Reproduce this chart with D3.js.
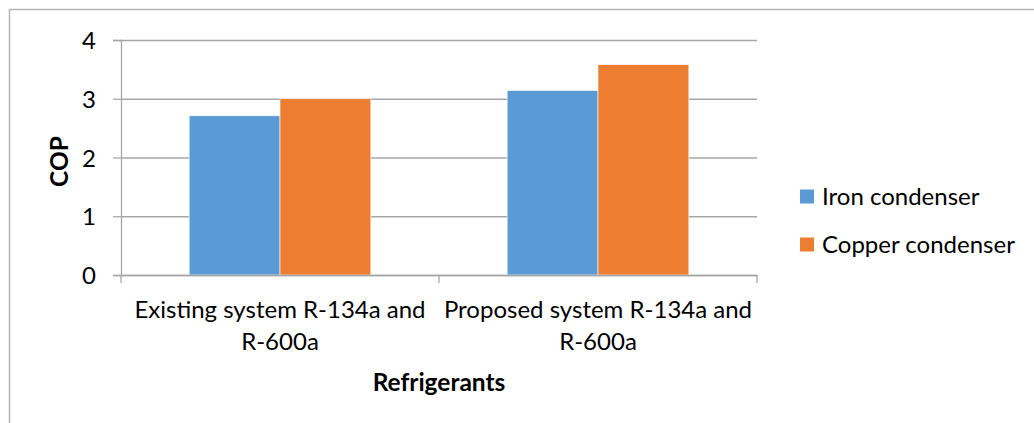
<!DOCTYPE html>
<html>
<head>
<meta charset="utf-8">
<script src="https://cdn.jsdelivr.net/npm/d3@7"></script>
<style>
  body { margin: 0; background: #fff; }
  text { font-family: Lato, "Open Sans", sans-serif; fill: #000; }
</style>
</head>
<body>
<svg id="chart" width="1034" height="423"></svg>
<script>
// Data
const categories = [
	["Existing system R-134a and", "R-600a"],
	["Proposed system R-134a and", "R-600a"]];
const seriesNames = ["Iron condenser", "Copper condenser"];
const ironValues = [2.71, 3.14];
const copperValues = [3.0, 3.58];
const yTicks = [0, 1, 2, 3, 4];

const colours = ["#5b9bd5", "#ed7d31"];
const gridColour = "#a6a6a6";

const svg = d3.select("#chart");

// Plot area
const plot = { left: 121, right: 757, top: 40, bottom: 275 };

// Outer chart border (runs past the right and bottom edges)
svg.append("rect")
	.attr("x", 9.5).attr("y", 9.5)
	.attr("width", 1100).attr("height", 600)
	.attr("fill", "none")
	.attr("stroke", "#b3b3b3")
	.attr("stroke-width", 1.5);

const catKeys = categories.map(c => c.join(" "));
const x0 = d3.scaleBand().domain(catKeys).range([plot.left, plot.right]);
const x1 = d3.scaleBand().domain(seriesNames).range([0, x0.bandwidth()]).paddingOuter(0.75);
const y = d3.scaleLinear().domain([0, 4]).range([plot.bottom, plot.top]);

// Gridlines
svg.append("g")
	.attr("transform", `translate(${plot.left},0)`)
	.call(d3.axisLeft(y).tickValues(yTicks).tickSize(-(plot.right - plot.left)).tickFormat(""))
	.call(g => g.select(".domain").remove())
	.call(g => g.selectAll("line").attr("stroke", gridColour).attr("stroke-width", 1.3));

// Bars
const rows = catKeys.map((k, i) => ({ key: k, values: [ironValues[i], copperValues[i]] }));
svg.append("g").selectAll("g")
	.data(rows)
	.enter()
	.append("g")
	.attr("transform", d => `translate(${x0(d.key)},0)`)
	.selectAll("rect")
	.data(d => d.values.map((v, j) => ({ name: seriesNames[j], value: v, j: j })))
	.enter()
	.append("rect")
	.attr("x", d => x1(d.name))
	.attr("width", x1.bandwidth())
	.attr("y", d => y(d.value))
	.attr("height", d => y(0) - y(d.value))
	.attr("fill", d => colours[d.j])
	.attr("stroke", "#fff")
	.attr("stroke-width", 0.6);

// Y axis
svg.append("g")
	.attr("transform", `translate(${plot.left},0)`)
	.call(d3.axisLeft(y).tickValues(yTicks).tickSize(8).tickPadding(17).tickFormat(d3.format("d")))
	.call(g => g.select(".domain").attr("stroke", gridColour).attr("stroke-width", 1.3))
	.call(g => g.selectAll("line").attr("stroke", gridColour).attr("stroke-width", 1.3))
	.call(g => g.selectAll("text")
		.style("font-family", "Lato, sans-serif")
		.style("font-size", "24px")
		.attr("dy", "0.36em"));

// X axis line and boundary ticks
const xAxis = svg.append("g")
	.attr("transform", `translate(0,${plot.bottom})`)
	.call(d3.axisBottom(x0).tickSize(0).tickFormat(""))
	.call(g => g.select(".domain").attr("stroke", gridColour).attr("stroke-width", 1.3));

const bounds = catKeys.map(k => x0(k)).concat([x0(catKeys[catKeys.length - 1]) + x0.bandwidth()]);
xAxis.selectAll(".bound")
	.data(bounds)
	.enter()
	.append("line")
	.attr("class", "bound")
	.attr("x1", d => d).attr("x2", d => d)
	.attr("y1", 0).attr("y2", 8)
	.attr("stroke", gridColour)
	.attr("stroke-width", 1.3);

// Category labels
const catLabels = svg.append("g").selectAll("text")
	.data(categories)
	.enter()
	.append("text")
	.attr("text-anchor", "middle")
	.style("font-size", "24px");

catLabels.selectAll("tspan")
	.data((d, i) => d.map(line => ({ line: line, key: catKeys[i] })))
	.enter()
	.append("tspan")
	.attr("x", d => x0(d.key) + x0.bandwidth() / 2)
	.attr("y", (d, j) => 318 + j * 32)
	.text(d => d.line);

// Axis titles
svg.append("text")
	.text("Refrigerants")
	.attr("x", (plot.left + plot.right) / 2)
	.attr("y", 391)
	.attr("text-anchor", "middle")
	.style("font-size", "24.5px")
	.style("font-weight", "bold");

svg.append("text")
	.text("COP")
	.attr("transform", `translate(68,${(plot.top + plot.bottom) / 2 + 4}) rotate(-90)`)
	.attr("text-anchor", "middle")
	.style("font-size", "24.5px")
	.style("font-weight", "bold");

// Legend
const legend = svg.append("g").selectAll("g")
	.data(seriesNames)
	.enter()
	.append("g")
	.attr("transform", (d, i) => `translate(800,${189.5 + i * 48})`);

legend.append("rect")
	.attr("width", 14).attr("height", 14)
	.attr("fill", (d, i) => colours[i]);

legend.append("text")
	.attr("x", 22)
	.attr("y", 15.5)
	.style("font-size", "24px")
	.text(d => d);
</script>
</body>
</html>
